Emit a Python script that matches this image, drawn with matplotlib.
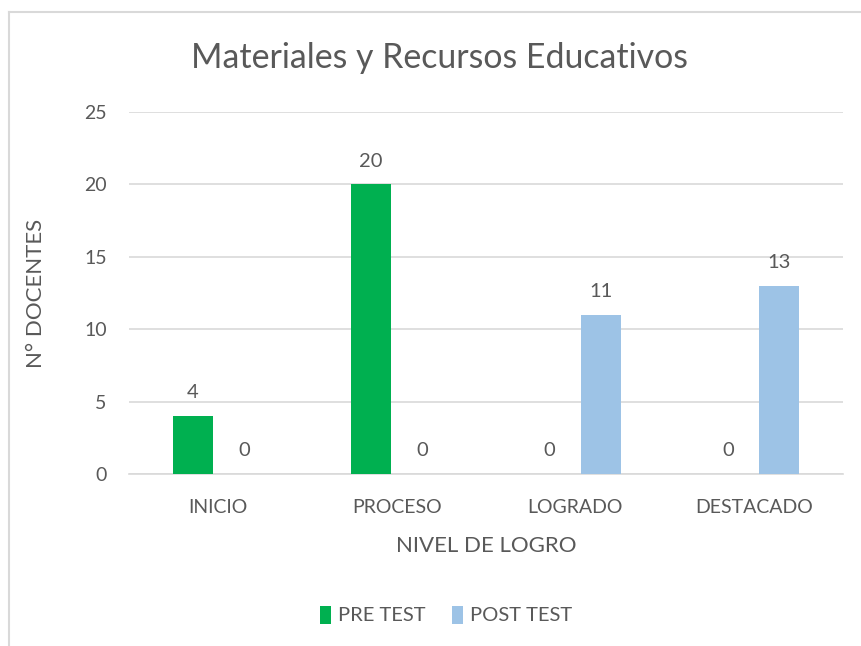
import matplotlib.pyplot as plt
import numpy as np
from matplotlib.lines import Line2D

plt.rcParams['font.family'] = ['Lato', 'DejaVu Sans']

# --- data ---
categories = ["INICIO", "PROCESO", "LOGRADO", "DESTACADO"]
pre_test = [4, 20, 0, 0]
post_test = [0, 0, 11, 13]
series_names = ["PRE TEST", "POST TEST"]

GREEN = "#00B050"
BLUE = "#9DC3E6"
GRID = "#D9D9D9"
TEXT = "#595959"

fig = plt.figure(figsize=(8.61, 6.46), dpi=100)
ax = fig.add_axes([0.1498, 0.2663, 0.8293, 0.5603])

# chart frame (light gray border at top and left)
fig.add_artist(Line2D([9 / 861, 1], [1 - 12 / 646] * 2, color=GRID, lw=1.5,
                      transform=fig.transFigure))
fig.add_artist(Line2D([9 / 861] * 2, [0, 1 - 12 / 646], color=GRID, lw=1.5,
                      transform=fig.transFigure))

x = np.arange(len(categories))
width = 0.224
offset = 0.143
b1 = ax.bar(x - offset, pre_test, width, color=GREEN, label=series_names[0], zorder=3)
b2 = ax.bar(x + offset, post_test, width, color=BLUE, label=series_names[1], zorder=3)

for bars in (b1, b2):
    for rect in bars:
        h = rect.get_height()
        ax.annotate(f"{h:g}", (rect.get_x() + rect.get_width() / 2, h),
                    xytext=(0, 10.5), textcoords="offset points",
                    ha="center", va="bottom", fontsize=14.5, color=TEXT)

ax.set_xlim(-0.5, len(categories) - 0.5)
ax.set_ylim(0, 25)
ax.set_yticks(range(0, 26, 5))
ax.set_xticks(x)
ax.set_xticklabels(categories)
ax.yaxis.grid(True, color=GRID, lw=1.2, zorder=0)
ax.set_axisbelow(True)
for side in ("top", "right", "left"):
    ax.spines[side].set_visible(False)
ax.spines["bottom"].set_color(GRID)
ax.spines["bottom"].set_linewidth(1.2)
ax.tick_params(axis="both", length=0, labelsize=14, labelcolor=TEXT)
ax.tick_params(axis="x", pad=18)
ax.tick_params(axis="y", pad=16)

ax.set_xlabel("NIVEL DE LOGRO", fontsize=16, color=TEXT, va="center")
ax.xaxis.set_label_coords(0.5, -0.199)
ax.set_ylabel("N° DOCENTES", fontsize=16, color=TEXT, va="center")
ax.yaxis.set_label_coords(-0.130, 0.5)

fig.text(0.511, 1 - 58 / 646, "Materiales y Recursos Educativos",
         ha="center", va="center", fontsize=24.4, color=TEXT)

fig.legend(handles=[b1, b2], labels=series_names, loc="center",
           bbox_to_anchor=(0.518, 1 - 615 / 646), ncol=2, frameon=False,
           fontsize=14.5, labelcolor=TEXT, handlelength=0.55, handleheight=1.0,
           handletextpad=0.35, columnspacing=1.3)

fig.savefig("out.png", dpi=100)
